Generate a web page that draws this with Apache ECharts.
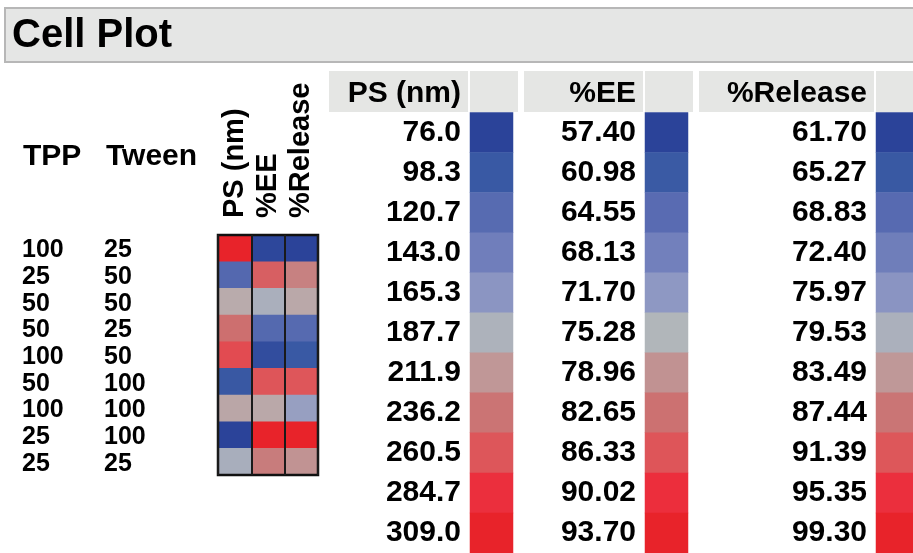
<!DOCTYPE html>
<html>
<head>
<meta charset="utf-8">
<script src="https://cdn.jsdelivr.net/npm/echarts@6/dist/echarts.min.js"></script>
<style>
html, body { margin: 0; padding: 0; background: #fff; }
#chart { width: 913px; height: 553px; }
</style>
</head>
<body>
<div id="chart"></div>
<script>
// Factor settings for each run (row order as listed)
const tpp   = ['100', '25', '50', '50', '100', '50', '100', '25', '25'];
const tween = ['25', '50', '50', '25', '50', '100', '100', '100', '25'];

// Response names (cell plot columns)
const responses = ['PS (nm)', '%EE', '%Release'];

// Response values per run
const psValues      = [309.0, 118.0, 200.0, 240.0, 268.0, 97.0, 203.0, 76.0, 185.0];
const eeValues      = [58.0, 85.0, 74.5, 64.0, 59.0, 86.3, 77.0, 93.7, 81.5];
const releaseValues = [61.7, 86.0, 82.0, 68.8, 65.3, 91.5, 77.5, 99.3, 84.0];

// Colour legend tick values
const psTicks      = [76.0, 98.3, 120.7, 143.0, 165.3, 187.7, 211.9, 236.2, 260.5, 284.7, 309.0];
const eeTicks      = [57.40, 60.98, 64.55, 68.13, 71.70, 75.28, 78.96, 82.65, 86.33, 90.02, 93.70];
const releaseTicks = [61.70, 65.27, 68.83, 72.40, 75.97, 79.53, 83.49, 87.44, 91.39, 95.35, 99.30];

// Blue - grey - red colour theme
const scaleColors = ['#2b4399', '#3a5aa4', '#5a6cb2', '#7381bc', '#9099c3', '#b4b8b9',
                     '#c29090', '#cc7070', '#df5458', '#ec2d3c', '#e8232a'];

const FONT = "'Liberation Sans', Arial, Helvetica, sans-serif";

const chart = echarts.init(document.getElementById('chart'), null, { renderer: 'canvas' });

const cellData = (vals, col) => vals.map((v, i) => [col, i, v]);
const legendData = (ticks) => ticks.map((v, i) => [0, i, v]);

// Legend columns: swatch left edge, header box extent, label decimals
const legendCols = [
  { ticks: psTicks,      left: 470, boxLeft: 329, boxRight: 468, digits: 1, name: responses[0] },
  { ticks: eeTicks,      left: 645, boxLeft: 524, boxRight: 643, digits: 2, name: responses[1] },
  { ticks: releaseTicks, left: 876, boxLeft: 699, boxRight: 874, digits: 2, name: responses[2] }
];

const grids = [
  { left: 218, top: 235, width: 100, height: 240, show: true, z: 10,
    borderColor: '#111', borderWidth: 2.5, backgroundColor: 'transparent' }
].concat(legendCols.map(c => ({ left: c.left, top: 112.5, width: 43, height: 444.4 })));

const xAxes = [{
  type: 'category', gridIndex: 0, position: 'top', data: responses, z: 10,
  axisLine: { show: false }, axisTick: { show: false },
  splitLine: { show: true, lineStyle: { color: '#1a1a1a', width: 2 } },
  axisLabel: { interval: 0, rotate: -90, margin: 17, fontSize: 29, fontWeight: 'bold',
               color: '#000', fontFamily: FONT, hideOverlap: false }
}].concat(legendCols.map((c, k) => ({
  type: 'category', gridIndex: k + 1, data: [''], show: false
})));

const yAxes = [{
  type: 'category', gridIndex: 0, inverse: true,
  data: tpp.map((t, i) => t + ' ' + tween[i]),
  axisLine: { show: false }, axisTick: { show: false }, splitLine: { show: false },
  axisLabel: {
    margin: 19, interval: 0,
    formatter: (v, i) => '{a|' + tpp[i] + '}{b|' + tween[i] + '}',
    rich: {
      a: { width: 82, align: 'left', fontSize: 25, fontWeight: 'bold', color: '#000', fontFamily: FONT, padding: [4, 0, 0, 0] },
      b: { width: 95, align: 'left', fontSize: 25, fontWeight: 'bold', color: '#000', fontFamily: FONT, padding: [4, 0, 0, 0] }
    }
  }
}].concat(legendCols.map((c, k) => ({
  type: 'category', gridIndex: k + 1, inverse: true,
  data: c.ticks.map(v => v.toFixed(c.digits)),
  axisLine: { show: false }, axisTick: { show: false }, splitLine: { show: false },
  axisLabel: { interval: 0, margin: 9, fontSize: 30, fontWeight: 'bold', color: '#000',
               fontFamily: FONT, padding: [8, 0, 0, 0] }
})));

const series = [
  { type: 'heatmap', xAxisIndex: 0, yAxisIndex: 0, data: cellData(psValues, 0) },
  { type: 'heatmap', xAxisIndex: 0, yAxisIndex: 0, data: cellData(eeValues, 1) },
  { type: 'heatmap', xAxisIndex: 0, yAxisIndex: 0, data: cellData(releaseValues, 2) },
  { type: 'heatmap', xAxisIndex: 1, yAxisIndex: 1, data: legendData(psTicks) },
  { type: 'heatmap', xAxisIndex: 2, yAxisIndex: 2, data: legendData(eeTicks) },
  { type: 'heatmap', xAxisIndex: 3, yAxisIndex: 3, data: legendData(releaseTicks) }
].map(s => Object.assign(s, { itemStyle: { borderWidth: 0 }, emphasis: { disabled: true } }));

const visualMaps = legendCols.map((c, k) => ({
  type: 'continuous', show: false,
  min: c.ticks[0], max: c.ticks[c.ticks.length - 1],
  seriesIndex: [k, k + 3], dimension: 2,
  inRange: { color: scaleColors }
}));

// Title bar, factor headers and legend header boxes
const graphics = [
  { type: 'rect', shape: { x: 5, y: 8, width: 920, height: 54 },
    style: { fill: '#e5e6e5', stroke: '#b7b7b7', lineWidth: 2 }, z: 0 },
  { type: 'text', x: 12, y: 36,
    style: { text: 'Cell Plot', font: 'bold 40px ' + FONT, fill: '#000', textVerticalAlign: 'middle' } },
  { type: 'text', x: 23, y: 157,
    style: { text: 'TPP', font: 'bold 30px ' + FONT, fill: '#000', textVerticalAlign: 'middle' } },
  { type: 'text', x: 106, y: 157,
    style: { text: 'Tween', font: 'bold 30px ' + FONT, fill: '#000', textVerticalAlign: 'middle' } }
];
legendCols.forEach(c => {
  graphics.push(
    { type: 'rect', shape: { x: c.boxLeft, y: 71, width: c.boxRight - c.boxLeft, height: 41 },
      style: { fill: '#e5e6e4' } },
    { type: 'rect', shape: { x: c.left, y: 71, width: 48, height: 41 },
      style: { fill: '#e5e6e4' } },
    { type: 'text', x: c.left - 9, y: 94,
      style: { text: c.name, font: 'bold 30px ' + FONT, fill: '#000',
               textAlign: 'right', textVerticalAlign: 'middle' } }
  );
});

chart.setOption({
  animation: false,
  backgroundColor: '#fff',
  grid: grids,
  xAxis: xAxes,
  yAxis: yAxes,
  visualMap: visualMaps,
  series: series,
  graphic: graphics
});
</script>
</body>
</html>
